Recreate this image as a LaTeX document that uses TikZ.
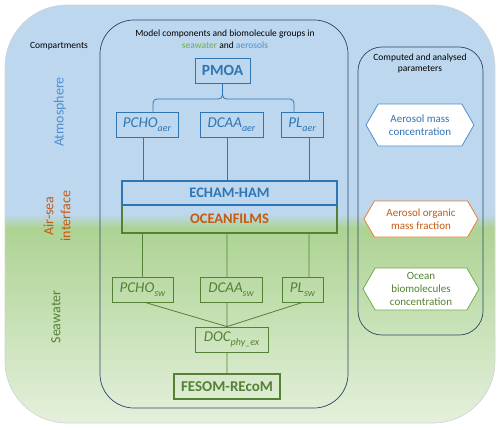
\documentclass[tikz,border=0pt]{standalone}
\usepackage{fontspec}
\setmainfont{Carlito}
\usetikzlibrary{shapes.symbols}

\definecolor{aerblue}{HTML}{2E75B6}
\definecolor{lightaer}{HTML}{4F8FD0}
\definecolor{swgreen}{HTML}{548235}
\definecolor{lightsw}{HTML}{70AD47}
\definecolor{filmorange}{HTML}{C55A11}
\definecolor{hexorange}{HTML}{ED7D31}
\definecolor{panelnavy}{HTML}{2F4468}
\definecolor{skyfill}{HTML}{BDD7EE}
\definecolor{seafill}{HTML}{ADD393}
\definecolor{palefill}{HTML}{E4F0DC}

\newcommand{\lowsub}[1]{\raisebox{-0.5ex}{\fontsize{10}{10}\selectfont #1}}

\begin{document}
\begin{tikzpicture}[x=1pt,y=-1pt,
    every node/.style={font=\fontsize{9.5}{11.5}\selectfont},
    compart/.style={rotate=90,align=center,font=\fontsize{14}{17}\selectfont},
    aerbox/.style={draw=aerblue,line width=0.8pt,text=aerblue,minimum height=25pt,
      inner sep=0pt,font=\fontsize{15}{16}\selectfont\itshape},
    swbox/.style={aerbox,draw=swgreen,text=swgreen},
    modelbox/.style={line width=1.8pt,minimum width=215pt,inner sep=0pt,
      font=\fontsize{14.5}{16}\selectfont\bfseries},
    hexbox/.style={signal,signal to=west and east,signal pointer angle=120,
      draw,fill=white,line width=0.8pt,minimum width=108pt,minimum height=42pt,
      align=center,inner sep=1pt,font=\fontsize{11}{13}\selectfont},
    aerline/.style={draw=aerblue,line width=0.8pt},
    swline/.style={draw=swgreen,line width=0.8pt}]
    \useasboundingbox (0,0) rectangle (500,429);
    % background
    \begin{scope}
      \clip[rounded corners=62pt] (5,5) rectangle (495,423);
      \fill[skyfill] (5,5) rectangle (495,214);
      \shade[top color=skyfill,bottom color=seafill] (5,214) rectangle (495,228);
      \shade[top color=seafill,bottom color=palefill] (5,228) rectangle (495,423);
    \end{scope}
    \draw[gray!35,line width=0.6pt,rounded corners=62pt] (5,5) rectangle (495,423);
    \draw[panelnavy,line width=0.7pt,rounded corners=34pt] (100,20) rectangle (348,408);
    \draw[panelnavy,line width=0.7pt,rounded corners=24pt] (358,47) rectangle (483,335);

    % compartments
    \node (comp) at (59,46) {Compartments};
    \node[compart,text=lightaer] (atm) at (60,112) {Atmosphere};
    \node[compart,text=filmorange] (airsea) at (57,216) {Air-sea\\interface};
    \node[compart,text=swgreen] (sea) at (56,317) {Seawater};

    % model components
    \node[align=center] (title) at (225,39) {Model components and biomolecule groups in\\
      {\color{lightsw}seawater} and {\color{lightaer}aerosols}};
    \node[aerbox,line width=1pt,minimum width=55pt,font=\fontsize{15.5}{16}\selectfont\bfseries] (PMOA) at (222.5,70.5) {PMOA};
    \node[aerbox,minimum width=62pt] (PCHOaer) at (147,124.5) {PCHO\lowsub{aer}};
    \node[aerbox,minimum width=63pt] (DCAAaer) at (231.5,124.5) {DCAA\lowsub{aer}};
    \node[aerbox,minimum width=42pt] (PLaer) at (302,124.5) {PL\lowsub{aer}};
    \node[modelbox,draw=swgreen,text=filmorange,minimum height=28pt] (FILMS) at (229.5,219) {OCEANFILMS};
    \node[modelbox,draw=aerblue,text=aerblue,minimum height=24pt] (ECHAM) at (229.5,193) {ECHAM-HAM};
    \node[swbox,minimum width=61pt] (PCHOsw) at (142.5,289.5) {PCHO\lowsub{sw}};
    \node[swbox,minimum width=62pt] (DCAAsw) at (231,289.5) {DCAA\lowsub{sw}};
    \node[swbox,minimum width=41pt] (PLsw) at (302.5,289.5) {PL\lowsub{sw}};
    \node[swbox,minimum width=73pt] (DOC) at (231.5,339.5) {DOC\lowsub{phy\_ex}};
    \node[swbox,line width=2.4pt,minimum width=106pt,font=\fontsize{15}{16}\selectfont\bfseries] (FESOM) at (227,386.5) {FESOM-REcoM};

    % computed parameters
    \node[align=center] (params) at (420,63.5) {Computed and analysed\\parameters};
    \node[hexbox,draw=lightaer,text=aerblue] (mass) at (420,125) {Aerosol mass\\concentration};
    \node[hexbox,draw=hexorange,text=filmorange,minimum height=36pt,minimum width=114pt] (frac) at (421,219) {Aerosol organic\\mass fraction};
    \node[hexbox,draw=lightsw,text=swgreen,minimum width=116pt] (ocean) at (421,289) {Ocean\\biomolecules\\concentration};

    % connectors
    \coordinate (cusp) at (222.5,99);
    \coordinate (a1) at ([xshift=-4pt]PCHOaer.south);
    \coordinate (a2) at ([xshift=-4pt]DCAAaer.south);
    \coordinate (a3) at ([xshift=7pt]PLaer.south);
    \coordinate (s2) at ([xshift=-4pt]DCAAsw.north);
    \coordinate (s3) at ([xshift=6.5pt]PLsw.north);
    \coordinate (d0) at ([xshift=-4.5pt]DOC.north);
    \coordinate (d1) at ([xshift=-4.5pt]DOC.south);
    \draw[aerline,rounded corners=4pt] ([xshift=6pt]PCHOaer.north) |- (cusp) -- (PMOA.south);
    \draw[aerline,rounded corners=4pt] ([xshift=-8pt]PLaer.north) |- (cusp) -- (PMOA.south);
    \path[aerline] (a1) -- (a1 |- ECHAM.north)
      (a2) -- (a2 |- ECHAM.north)
      (a3) -- (a3 |- ECHAM.north);
    \path[swline] (PCHOsw.north |- FILMS.south) -- (PCHOsw.north)
      (s2 |- FILMS.south) -- (s2)
      (s3 |- FILMS.south) -- (s3)
      ([xshift=2.5pt]PCHOsw.south) -- (d0)
      (s2 |- DCAAsw.south) -- (d0)
      (PLsw.south) -- (d0)
      (d1) -- (d1 |- FESOM.north);
\end{tikzpicture}
\end{document}
